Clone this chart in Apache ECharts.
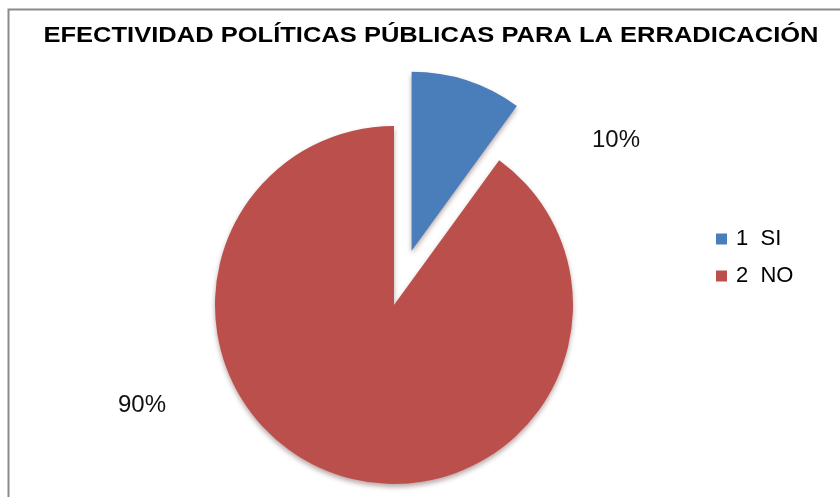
<!DOCTYPE html>
<html>
<head>
<meta charset="utf-8">
<script src="https://cdn.jsdelivr.net/npm/echarts@6/dist/echarts.min.js"></script>
<style>
html,body{margin:0;padding:0;background:#fff;}
#chart{width:840px;height:497px;}
</style>
</head>
<body>
<div id="chart"></div>
<script>
var titleText = 'EFECTIVIDAD POLÍTICAS PÚBLICAS PARA LA ERRADICACIÓN';
var categories = ['1  SI', '2  NO'];
var values = [10, 90];
var labelTexts = ['10%', '90%'];
var colors = ['#4A7EBB', '#BA4F4C'];
var labelPos = [[616, 140], [142, 405]];

var chart = echarts.init(document.getElementById('chart'));
var pieData = categories.map(function (c, i) {
  return { name: c, value: values[i], selected: i === 0, itemStyle: { color: colors[i] } };
});
var labelData = categories.map(function (c, i) {
  return { name: c, value: values[i], label: { formatter: labelTexts[i] } };
});
var center = [394, 305];
var radius = 179;
chart.setOption({
  backgroundColor: '#ffffff',
  animation: false,
  graphic: [{
    type: 'rect',
    shape: { x: 8.5, y: 9.5, width: 900, height: 600 },
    style: { fill: 'none', stroke: '#8a8a8a', lineWidth: 2 },
    silent: true
  }, {
    type: 'text',
    x: 431,
    y: 36,
    scaleX: 1.16,
    scaleY: 1.04,
    silent: true,
    style: {
      text: titleText,
      fontFamily: 'Liberation Sans',
      fontWeight: 'bold',
      fontSize: 22,
      fill: '#000',
      align: 'center',
      verticalAlign: 'middle'
    }
  }],
  legend: {
    orient: 'vertical',
    left: 711,
    top: 222,
    itemWidth: 11,
    itemHeight: 11,
    itemGap: 13,
    icon: 'rect',
    selectedMode: false,
    textStyle: { fontFamily: 'Liberation Sans', fontSize: 22, lineHeight: 24, color: '#000', padding: [0, 0, 0, 4] },
    data: categories
  },
  series: [{
    type: 'pie',
    center: center,
    radius: radius,
    startAngle: 90,
    clockwise: true,
    selectedMode: 'single',
    selectedOffset: 57,
    data: pieData,
    itemStyle: { shadowColor: 'rgba(60,0,0,0.35)', shadowBlur: 5, shadowOffsetY: 3 },
    emphasis: { disabled: true },
    label: { show: false },
    labelLine: { show: false }
  }, {
    type: 'pie',
    center: center,
    radius: radius,
    startAngle: 90,
    clockwise: true,
    silent: true,
    selectedMode: false,
    data: labelData,
    itemStyle: { color: 'rgba(0,0,0,0)' },
    emphasis: { disabled: true },
    label: {
      show: true,
      position: 'outside',
      fontFamily: 'Liberation Sans',
      fontSize: 24,
      color: '#111'
    },
    labelLine: { show: false },
    labelLayout: function (p) {
      var pos = labelPos[p.dataIndex];
      return { x: pos[0], y: pos[1], align: 'center', verticalAlign: 'middle' };
    }
  }]
});
</script>
</body>
</html>
